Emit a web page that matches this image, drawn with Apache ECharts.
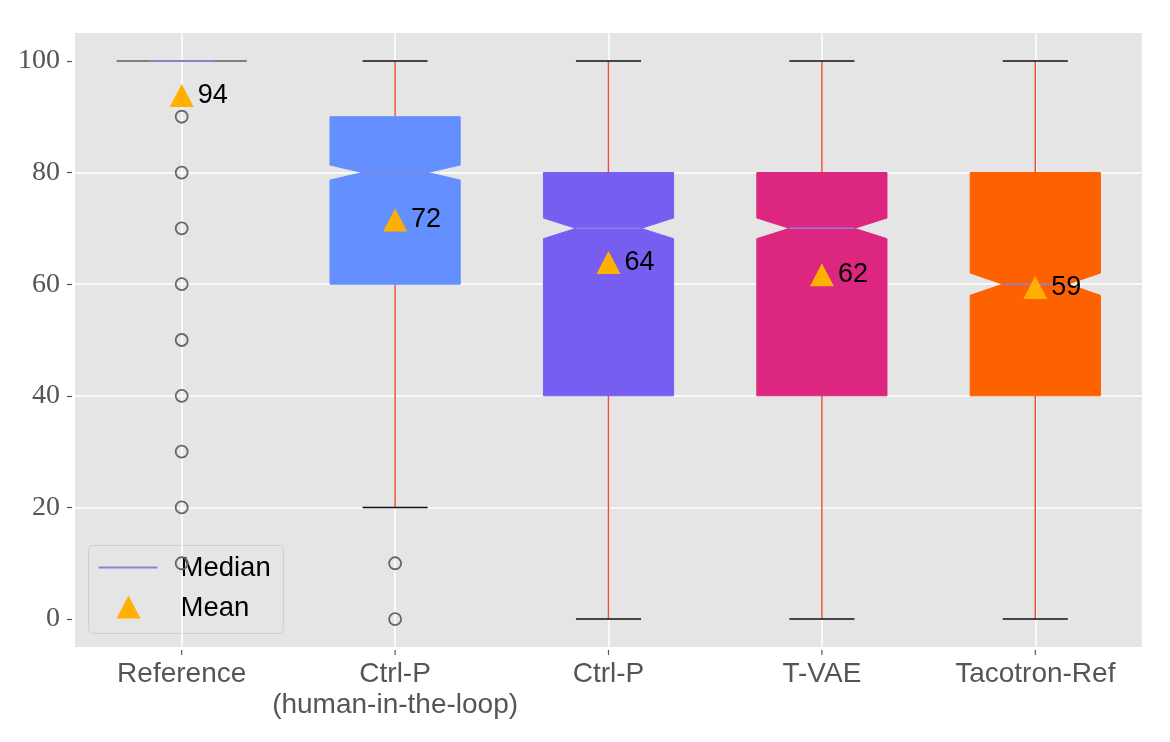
<!DOCTYPE html>
<html>
<head>
<meta charset="utf-8">
<script src="https://cdn.jsdelivr.net/npm/echarts@6/dist/echarts.min.js"></script>
<style>html,body{margin:0;padding:0;background:#fff}#c{width:1170px;height:742px}</style>
</head>
<body>
<div id="c"></div>
<script>
var categories = ['Reference', 'Ctrl-P\n(human-in-the-loop)', 'Ctrl-P', 'T-VAE', 'Tacotron-Ref'];
var whiskerLow = [100, 20, 0, 0, 0];
var q1 = [100, 60, 40, 40, 40];
var medians = [100, 80, 70, 70, 60];
var q3 = [100, 90, 80, 80, 80];
var whiskerHigh = [100, 100, 100, 100, 100];
var notchHalf = [0, 1.35, 1.85, 1.85, 2.0];
var means = [93.8, 71.5, 63.9, 61.7, 59.4];
var fliers = [[0, 90], [0, 80], [0, 70], [0, 60], [0, 50], [0, 40], [0, 30], [0, 20], [0, 10], [1, 10], [1, 0]];
var yTicks = [0, 20, 40, 60, 80, 100];
var boxColors = ['#808080', '#648FFF', '#785EF0', '#DC267F', '#FE6100'];

var boxData = categories.map(function (c, i) {
  return [i, whiskerLow[i], q1[i], medians[i], q3[i], whiskerHigh[i], notchHalf[i]];
});
var meanData = means.map(function (m, i) { return [i, m]; });

var MEDIAN_COLOR = '#8E80DE';
var WHISKER_COLOR = '#E5533D';

var chart = echarts.init(document.getElementById('c'));
chart.setOption({
  animation: false,
  grid: { left: 75, right: 28, top: 33, bottom: 95, show: true, backgroundColor: '#E5E5E5', borderWidth: 0 },
  xAxis: {
    type: 'category',
    data: categories,
    boundaryGap: true,
    offset: 3,
    axisLine: { show: false, onZero: false },
    axisTick: { show: false },
    splitLine: { show: true, alignWithLabel: true, lineStyle: { color: '#ffffff', width: 1.5 } },
    axisLabel: { color: '#555', fontFamily: 'Liberation Sans', fontSize: 28, lineHeight: 31, margin: 9, interval: 0 }
  },
  yAxis: {
    type: 'value',
    min: -5,
    max: 105,
    offset: 3,
    axisLine: { show: false, onZero: false },
    axisTick: { show: true, length: 5, customValues: yTicks, lineStyle: { color: '#555', width: 1.2 } },
    axisLabel: { color: '#555', fontFamily: 'Liberation Serif', fontSize: 28, margin: 12, customValues: yTicks },
    splitLine: { show: true, showMinLine: false, showMaxLine: false, lineStyle: { color: '#ffffff', width: 1.5 } }
  },
  series: [
    {
      type: 'custom',
      data: boxData,
      z: 2,
      clip: false,
      renderItem: function (params, api) {
        var idx = api.value(0);
        var band = api.size([1, 0])[0];
        var bw = band * 0.61;
        var cx = api.coord([idx, 0])[0];
        var y = function (v) { return api.coord([idx, v])[1]; };
        var wl = y(api.value(1)), b1 = y(api.value(2)), md = y(api.value(3)), b3 = y(api.value(4)), wh = y(api.value(5));
        var nh = api.value(6);
        var nTop = y(api.value(3) + nh), nBot = y(api.value(3) - nh);
        var L = cx - bw / 2, R = cx + bw / 2, nl = cx - bw / 4, nr = cx + bw / 4;
        var col = boxColors[idx];
        var gridBottom = y(-5);
        return {
          type: 'group',
          children: [
            { type: 'rect', shape: { x: cx - 0.6, y: gridBottom + 3, width: 1.2, height: 5 }, style: { fill: '#555' } },
            { type: 'line', shape: { x1: cx, y1: b3, x2: cx, y2: wh }, style: { stroke: WHISKER_COLOR, lineWidth: 1.5 } },
            { type: 'line', shape: { x1: cx, y1: b1, x2: cx, y2: wl }, style: { stroke: WHISKER_COLOR, lineWidth: 1.5 } },
            { type: 'line', shape: { x1: nl, y1: wh, x2: nr, y2: wh }, style: { stroke: '#111', lineWidth: 1.5 } },
            { type: 'line', shape: { x1: nl, y1: wl, x2: nr, y2: wl }, style: { stroke: '#111', lineWidth: 1.5 } },
            {
              type: 'polygon',
              shape: { points: [[L, b3], [R, b3], [R, nTop], [nr, md], [R, nBot], [R, b1], [L, b1], [L, nBot], [nl, md], [L, nTop]] },
              style: { fill: col, stroke: col, lineWidth: idx === 0 ? 2 : 1 }
            },
            { type: 'line', shape: { x1: nl, y1: md, x2: nr, y2: md }, style: { stroke: MEDIAN_COLOR, lineWidth: 1.5 } }
          ]
        };
      }
    },
    {
      type: 'scatter',
      data: fliers,
      z: 3,
      symbol: 'circle',
      symbolSize: 12,
      itemStyle: { color: 'rgba(0,0,0,0)', borderColor: '#666666', borderWidth: 1.8, opacity: 1 }
    },
    {
      type: 'scatter',
      data: meanData,
      z: 4,
      symbol: 'triangle',
      symbolSize: [24, 23],
      itemStyle: { color: '#FFB000', opacity: 1 },
      label: {
        show: true,
        position: 'right',
        distance: 4,
        color: '#000',
        fontFamily: 'Liberation Sans',
        fontSize: 27,
        formatter: function (p) { return String(Math.round(p.value[1])); }
      }
    }
  ],
  graphic: [{
    type: 'group', left: 88, top: 545, z: 100,
    children: [
      { type: 'rect', shape: { x: 0, y: 0, width: 195, height: 88, r: 5 }, style: { fill: 'rgba(229,229,229,0.8)', stroke: '#cfcfcf', lineWidth: 1 } },
      { type: 'line', shape: { x1: 10, y1: 22, x2: 69, y2: 22 }, style: { stroke: MEDIAN_COLOR, lineWidth: 2 } },
      { type: 'polygon', shape: { points: [[40, 50], [52, 73], [28, 73]] }, style: { fill: '#FFB000' } },
      { type: 'text', style: { x: 92, y: 23, text: 'Median', font: '27.5px "Liberation Sans"', fill: '#000', verticalAlign: 'middle' } },
      { type: 'text', style: { x: 92, y: 63, text: 'Mean', font: '27.5px "Liberation Sans"', fill: '#000', verticalAlign: 'middle' } }
    ]
  }]
});
</script>
</body>
</html>
